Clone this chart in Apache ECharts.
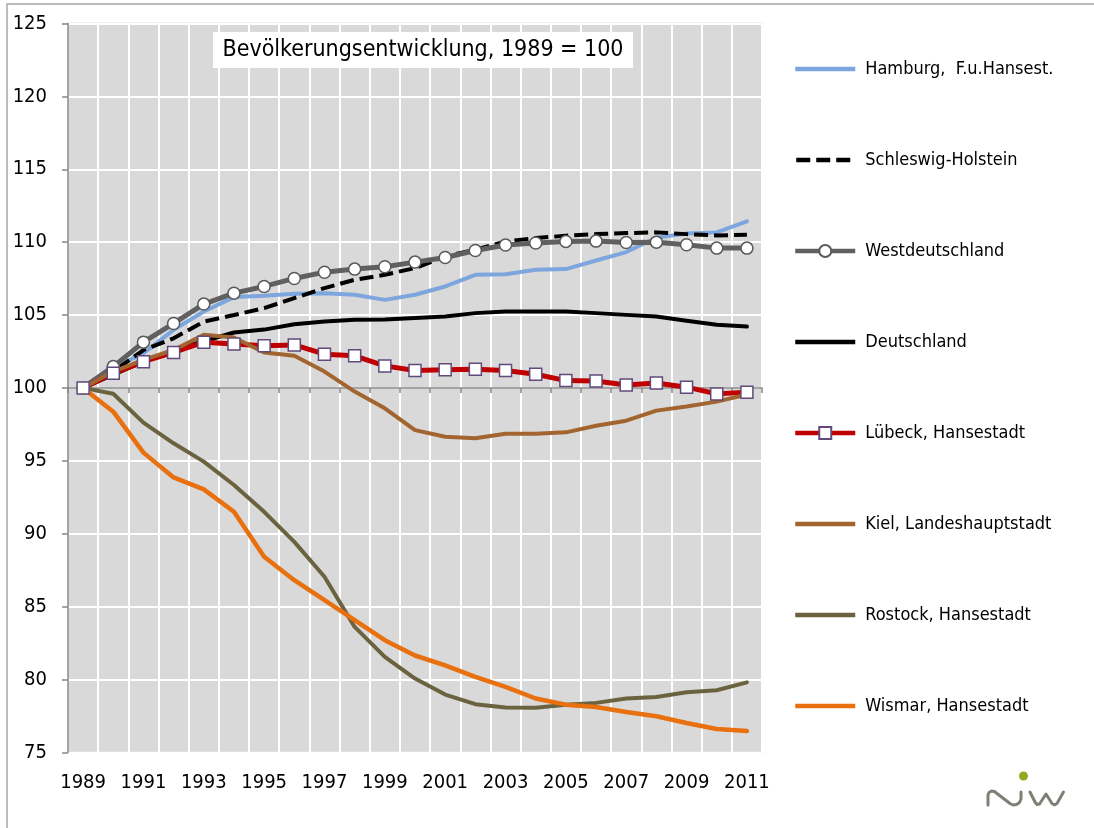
<!DOCTYPE html>
<html>
<head>
<meta charset="utf-8">
<script src="https://cdn.jsdelivr.net/npm/echarts@6/dist/echarts.min.js"></script>
<style>
html,body{margin:0;padding:0;background:#fff;}
#c{width:1094px;height:828px;}
</style>
</head>
<body>
<div id="c"></div>
<script>
const years = ['1989','1990','1991','1992','1993','1994','1995','1996','1997','1998','1999','2000','2001','2002','2003','2004','2005','2006','2007','2008','2009','2010','2011'];
const hamburg = [100,101.35,102.38,103.98,105.24,106.23,106.32,106.46,106.5,106.39,106.04,106.39,106.96,107.76,107.8,108.1,108.15,108.74,109.32,110.3,110.6,110.67,111.43];
const schleswigHolstein = [100,101.12,102.6,103.4,104.55,105.0,105.47,106.16,106.85,107.42,107.76,108.22,109.02,109.48,110.05,110.28,110.44,110.55,110.62,110.67,110.55,110.46,110.5];
const westdeutschland = [100,101.46,103.14,104.42,105.75,106.5,106.96,107.51,107.94,108.15,108.31,108.63,108.95,109.43,109.8,109.94,110.05,110.07,109.98,110.0,109.82,109.59,109.59];
const deutschland = [100,100.9,101.8,102.6,103.2,103.8,104.0,104.37,104.55,104.67,104.7,104.79,104.9,105.13,105.24,105.24,105.24,105.13,105.01,104.9,104.6,104.33,104.21];
const luebeck = [100,101.0,101.8,102.43,103.14,103.02,102.9,102.95,102.31,102.2,101.51,101.19,101.24,101.28,101.19,100.94,100.5,100.48,100.2,100.34,100.05,99.59,99.7];
const kiel = [100,101.12,101.92,102.6,103.64,103.46,102.43,102.2,101.12,99.75,98.6,97.1,96.65,96.55,96.85,96.85,96.95,97.4,97.75,98.44,98.72,99.06,99.55];
const rostock = [100,99.6,97.62,96.2,94.94,93.34,91.5,89.44,87.04,83.6,81.55,80.06,78.96,78.3,78.07,78.05,78.27,78.39,78.69,78.8,79.12,79.26,79.8];
const wismar = [100,98.37,95.56,93.86,93.04,91.5,88.41,86.81,85.44,84.07,82.69,81.64,80.97,80.17,79.49,78.69,78.27,78.11,77.77,77.47,77.01,76.6,76.46];
const yTicks = {min:75, max:125, interval:5};
const titleText = 'Bevölkerungsentwicklung, 1989 = 100';
const names = ['Hamburg,  F.u.Hansest.','Schleswig-Holstein','Westdeutschland','Deutschland','Lübeck, Hansestadt','Kiel, Landeshauptstadt','Rostock, Hansestadt','Wismar, Hansestadt'];

const FONT = '"DejaVu Sans Condensed", "DejaVu Sans", sans-serif';
const chart = echarts.init(document.getElementById('c'), null, {renderer:'canvas'});

// legend icons (60 x 15 box, corner specks fix the bounds)
const BOUNDS = 'M0,0 L0.01,0 L0.01,0.01 Z M59.99,15 L60,15 L60,14.99 Z ';
const ICON_SOLID = 'path://' + BOUNDS + 'M0,5.25 L60,5.25 L60,9.75 L0,9.75 Z';
const ICON_DASH = 'path://' + BOUNDS + 'M1,5.25 L15,5.25 L15,9.75 L1,9.75 Z M21,5.25 L35,5.25 L35,9.75 L21,9.75 Z M41,5.25 L55,5.25 L55,9.75 L41,9.75 Z';

function lineSeries(name, data, color, width, extra) {
  return Object.assign({
    name: name, type: 'line', data: data, xAxisIndex: 0, yAxisIndex: 0,
    symbol: 'none', smooth: false, animation: false,
    lineStyle: {color: color, width: width, cap: 'round', join: 'round'},
    itemStyle: {color: color}
  }, extra || {});
}

const option = {
  backgroundColor: '#ffffff',
  animation: false,
  textStyle: {fontFamily: FONT},
  grid: [
    {left: 68, right: 332, top: 23.5, bottom: 75.7, show: true, backgroundColor: '#d9d9d9', borderColor: '#e4e4e4', borderWidth: 2},
    {left: 68, right: 332, top: 386, height: 2, show: false}
  ],
  xAxis: [
    {type: 'category', data: years, gridIndex: 0, boundaryGap: true,
     axisLine: {show: false}, axisTick: {show: false},
     axisLabel: {interval: 1, margin: 20, fontSize: 20, color: '#000', fontFamily: FONT},
     splitLine: {show: true, interval: 0, lineStyle: {color: '#ffffff', width: 2}}},
    {type: 'category', data: years, gridIndex: 1, boundaryGap: true,
     axisLine: {show: true, lineStyle: {color: '#868686', width: 1.5}},
     axisTick: {show: true, interval: 0, length: 5, lineStyle: {color: '#868686', width: 1.5}},
     axisLabel: {show: false}, splitLine: {show: false}}
  ],
  yAxis: [
    {type: 'value', gridIndex: 0, min: yTicks.min, max: yTicks.max, interval: yTicks.interval,
     axisLine: {show: true, lineStyle: {color: '#868686', width: 1.5}},
     axisTick: {show: true, length: 6, lineStyle: {color: '#868686', width: 1.5}},
     axisLabel: {margin: 21, fontSize: 20, color: '#000', fontFamily: FONT},
     splitLine: {show: true, lineStyle: {color: '#ffffff', width: 2}}},
    {type: 'value', gridIndex: 1, show: false, min: 0, max: 1}
  ],
  legend: {
    orient: 'vertical', left: 793, top: 60, padding: 0,
    itemWidth: 60, itemHeight: 15, itemGap: 73,
    textStyle: {fontSize: 18, color: '#000', fontFamily: FONT, lineHeight: 15, padding: [0,0,0,5]},
    data: [
      {name: names[0], icon: ICON_SOLID},
      {name: names[1], icon: ICON_DASH},
      {name: names[2], lineStyle: {width: 4.5}},
      {name: names[3], icon: ICON_SOLID},
      {name: names[4], lineStyle: {width: 4.5}},
      {name: names[5], icon: ICON_SOLID},
      {name: names[6], icon: ICON_SOLID},
      {name: names[7], icon: ICON_SOLID}
    ]
  },
  series: [
    lineSeries(names[0], hamburg, '#7ca6dd', 4),
    lineSeries(names[1], schleswigHolstein, '#000000', 4, {lineStyle: {color: '#000', width: 4, type: [14,6], cap: 'butt'}}),
    lineSeries(names[2], westdeutschland, '#606060', 5, {
      symbol: 'circle', symbolSize: 12, showSymbol: true,
      itemStyle: {color: '#ffffff', borderColor: '#595959', borderWidth: 1.5},
      lineStyle: {color: '#606060', width: 5, join: 'round'}
    }),
    lineSeries(names[3], deutschland, '#000000', 4),
    lineSeries(names[4], luebeck, '#c00000', 5, {
      symbol: 'rect', symbolSize: 12, showSymbol: true,
      itemStyle: {color: '#ffffff', borderColor: '#604a7b', borderWidth: 1.5},
      lineStyle: {color: '#c00000', width: 5, join: 'round'}
    }),
    lineSeries(names[5], kiel, '#a3652f', 4),
    lineSeries(names[6], rostock, '#6b6340', 4),
    lineSeries(names[7], wismar, '#e8700e', 4.5)
  ],
  graphic: [
    {type: 'rect', shape: {x: 7, y: 4, width: 1300, height: 1000}, style: {fill: 'none', stroke: '#a6a6a6', lineWidth: 1.5}, silent: true, z: -10},
    {type: 'rect', shape: {x: 213, y: 32, width: 420, height: 36}, style: {fill: '#ffffff'}, z: 50},
    {type: 'text', x: 423, y: 50, style: {text: titleText, fontSize: 23, fontFamily: FONT, fill: '#000', align: 'center', verticalAlign: 'middle'}, z: 51},
    {type: 'polyline', shape: {points: [[988,805],[988,795],[989,792.5],[991.5,791],[994.5,791.5],[997,793.5],[1010,803.5],[1013,805],[1016.5,804.5],[1019.5,802.5],[1021,799],[1021,792]]},
     style: {fill: 'none', stroke: '#7f7f76', lineWidth: 3, lineCap: 'round', lineJoin: 'round'}},
    {type: 'polyline', shape: {points: [[1030,792],[1035,802],[1037,804.5],[1039.5,804],[1046,794],[1052,803.5],[1054.5,804.8],[1057,803.5],[1063.5,792]]},
     style: {fill: 'none', stroke: '#7f7f76', lineWidth: 3, lineCap: 'round', lineJoin: 'round'}},
    {type: 'circle', shape: {cx: 1023.5, cy: 776, r: 4.5}, style: {fill: '#97a620'}}
  ]
};
chart.setOption(option);
</script>
</body>
</html>
